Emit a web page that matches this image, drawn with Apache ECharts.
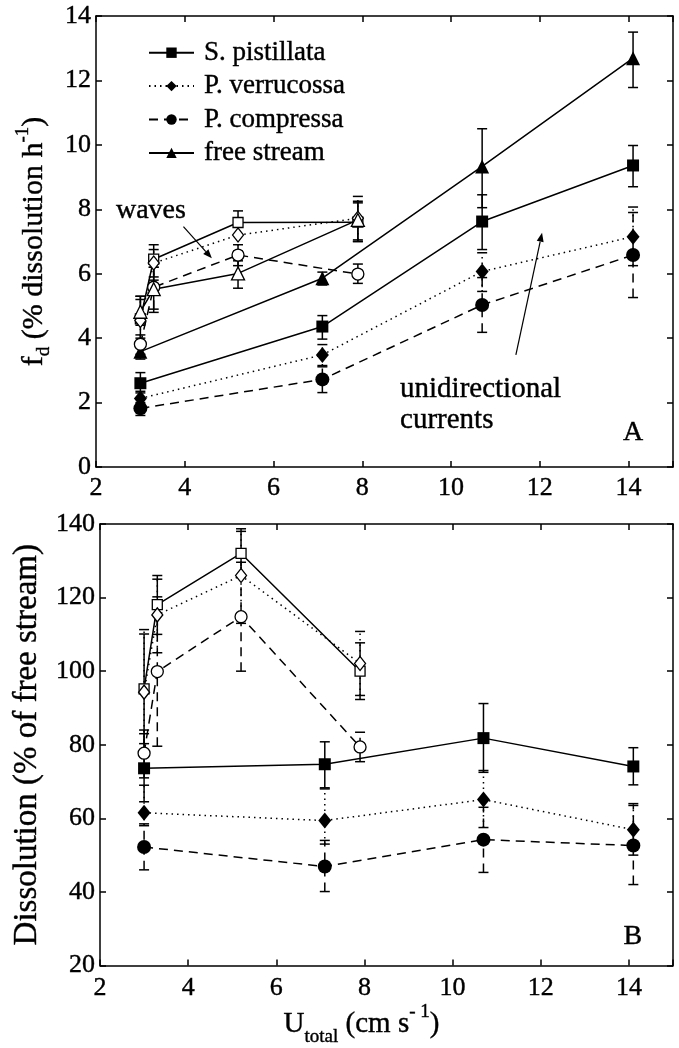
<!DOCTYPE html>
<html>
<head>
<meta charset="utf-8">
<script src="https://cdn.jsdelivr.net/npm/echarts/dist/echarts.min.js"></script>
<style>
html, body { margin: 0; padding: 0; background: #fff; }
#chart { width: 679px; height: 1048px; }
</style>
</head>
<body>
<div id="chart"></div>
<script>
// flow speeds (cm/s)
var xUni = [3.0, 7.1, 10.7, 14.1];
var xWave = [3.0, 3.3, 5.2, 7.9];
var names = ['S. pistillata', 'P. verrucossa', 'P. compressa', 'free stream'];

// panel A: fd (% dissolution h-1), unidirectional currents
var fdPistUni = [2.6, 4.36, 7.62, 9.36];
var fdPistUniErr = [[2.35, 2.93], [3.97, 4.7], [6.75, 8.45], [8.7, 9.98]];
var fdVerrUni = [2.13, 3.48, 6.07, 7.15];
var fdVerrUniErr = [[1.95, 2.3], [3.15, 3.8], [5.45, 6.65], [6.25, 8.07]];
var fdCompUni = [1.82, 2.72, 5.03, 6.58];
var fdCompUniErr = [[1.6, 2.0], [2.31, 3.11], [4.18, 5.88], [5.26, 7.9]];
var fdFreeUni = [3.58, 5.86, 9.33, 12.69];
var fdFreeUniErr = [[3.35, 3.8], [5.65, 6.05], [8.05, 10.5], [11.78, 13.5]];

// panel A: waves
var fdPistWave = [4.6, 6.45, 7.59, 7.6];
var fdPistWaveErr = [[4.0, 5.3], [5.9, 6.9], [7.2, 7.95], [7.0, 8.2]];
var fdVerrWave = [4.55, 6.33, 7.2, 7.72];
var fdVerrWaveErr = [[3.9, 5.2], [5.8, 6.75], [6.7, 7.7], [7.05, 8.4]];
var fdCompWave = [3.81, 5.58, 6.58, 5.99];
var fdCompWaveErr = [[3.5, 4.1], [4.9, 6.2], [6.25, 6.9], [5.7, 6.3]];
var fdFreeWave = [4.82, 5.52, 6.01, 7.67];
var fdFreeWaveErr = [[4.4, 5.3], [4.8, 6.2], [5.55, 6.4], [7.0, 8.25]];

// panel B: dissolution (% of free stream)
var dsPistUni = [73.6, 74.7, 81.8, 74.1];
var dsPistUniErr = [[64.5, 83], [68.3, 80.8], [72.5, 91.2], [69.1, 79.2]];
var dsVerrUni = [61.5, 59.4, 65.1, 56.9];
var dsVerrUniErr = [[58, 69], [53, 68], [57.5, 73], [50, 64]];
var dsCompUni = [52.2, 46.9, 54.2, 52.6];
var dsCompUniErr = [[46, 58.5], [40.1, 54], [45.3, 63], [42, 63.5]];
var dsPistWave = [95.2, 118.1, 132.0, 100.0];
var dsPistWaveErr = [[80.3, 110.1], [110, 126], [125.5, 138.7], [92.3, 107.7]];
var dsVerrWave = [94.3, 115.3, 126.0, 102.1];
var dsVerrWaveErr = [[77.5, 111.3], [105, 125], [113, 138], [93.4, 110.8]];
var dsCompWave = [77.7, 99.9, 114.8, 79.4];
var dsCompWaveErr = [[71, 84], [79.6, 120.2], [100, 129.6], [75.4, 83.4]];

var FONT = 'Liberation Serif';
var SOLID = 'solid';
var DOT = [1.5, 4];
var DASH = [9, 6];
var LW = 1.5;
// slight outline so the serif text looks as heavy as the scanned original
var INK = { textBorderColor: '#000', textBorderWidth: 0.4 };

var chart = echarts.init(document.getElementById('chart'));

function lineS(name, xs, ys, g, sym, size, filled, dash) {
    return {
        name: name, type: 'line', xAxisIndex: g * 2, yAxisIndex: g * 2,
        data: xs.map(function (x, i) { return [x, ys[i]]; }),
        symbol: sym, symbolSize: size, showSymbol: true, showAllSymbol: true,
        lineStyle: { color: '#000', width: LW, type: dash },
        itemStyle: { color: filled ? '#000' : '#fff', borderColor: '#000', borderWidth: filled ? 0 : 1.3 },
        z: 3
    };
}

function errS(xs, errs, g, dash) {
    return {
        type: 'custom', xAxisIndex: g * 2, yAxisIndex: g * 2, silent: true, z: 2,
        data: xs.map(function (x, i) { return [x, errs[i][0], errs[i][1]]; }),
        renderItem: function (params, api) {
            var lo = api.coord([api.value(0), api.value(1)]);
            var hi = api.coord([api.value(0), api.value(2)]);
            var w = 5;
            var cap = { stroke: '#000', lineWidth: LW };
            return {
                type: 'group', children: [
                    { type: 'line', shape: { x1: lo[0], y1: lo[1], x2: hi[0], y2: hi[1] },
                      style: { stroke: '#000', lineWidth: LW, lineDash: dash === SOLID ? null : dash } },
                    { type: 'line', shape: { x1: lo[0] - w, y1: lo[1], x2: lo[0] + w, y2: lo[1] }, style: cap },
                    { type: 'line', shape: { x1: hi[0] - w, y1: hi[1], x2: hi[0] + w, y2: hi[1] }, style: cap }
                ]
            };
        }
    };
}

function xAx(g, pos, labels, margin) {
    return {
        type: 'value', gridIndex: g, position: pos, min: 2, max: 15, interval: 2,
        axisLine: { show: true, onZero: false, lineStyle: { color: '#000', width: LW } },
        axisTick: { show: true, inside: true, length: 6, lineStyle: { color: '#000', width: LW } },
        axisLabel: Object.assign({ show: labels, fontFamily: FONT, fontSize: 26, color: '#000', margin: margin,
            formatter: function (v) { return v > 14.5 ? '' : v; } }, INK),
        splitLine: { show: false }
    };
}

function yAx(g, pos, labels, min, max, step) {
    return {
        type: 'value', gridIndex: g, position: pos, min: min, max: max, interval: step,
        axisLine: { show: true, onZero: false, lineStyle: { color: '#000', width: LW } },
        axisTick: { show: true, inside: true, length: 6, lineStyle: { color: '#000', width: LW } },
        axisLabel: Object.assign({ show: labels, fontFamily: FONT, fontSize: 26, color: '#000', margin: 5 }, INK),
        splitLine: { show: false }
    };
}

function rich(main, small, lh) {
    return {
        m: Object.assign({ fontFamily: FONT, fontSize: main, lineHeight: lh, color: '#000' }, INK),
        sub: Object.assign({ fontFamily: FONT, fontSize: small, lineHeight: small, verticalAlign: 'bottom', color: '#000' }, INK),
        sup: Object.assign({ fontFamily: FONT, fontSize: small, lineHeight: small, verticalAlign: 'top', color: '#000' }, INK)
    };
}

var xa0 = xAx(0, 'bottom', true, 8);
var xa1 = xAx(0, 'top', false, 8);
var xa2 = xAx(1, 'bottom', true, 10);
var xa3 = xAx(1, 'top', false, 10);
xa2.name = '{m|U}{sub|total}{m| (cm s}{sup|- 1}{m|)}';
xa2.nameLocation = 'middle';
xa2.nameGap = 29;
xa2.nameTextStyle = { fontFamily: FONT, color: '#000', padding: [0, 50, 0, 0], rich: rich(29, 19, 44) };

var ya0 = yAx(0, 'left', true, 0, 14, 2);
ya0.name = '{m|f}{sub|d}{m| (% dissolution h}{sup|-1}{m|)}';
ya0.nameLocation = 'middle';
ya0.nameRotate = 90;
ya0.nameGap = 34;
ya0.nameTextStyle = { fontFamily: FONT, color: '#000', rich: rich(30, 19, 40) };
var ya1 = yAx(0, 'right', false, 0, 14, 2);
var ya2 = yAx(1, 'left', true, 20, 140, 20);
ya2.name = 'Dissolution (% of free stream)';
ya2.nameLocation = 'middle';
ya2.nameRotate = 90;
ya2.nameGap = 44;
ya2.nameTextStyle = Object.assign({ fontFamily: FONT, fontSize: 33, lineHeight: 36, color: '#000' }, INK);
var ya3 = yAx(1, 'right', false, 20, 140, 20);

var series = [
    // panel A
    errS(xUni, fdPistUniErr, 0, SOLID), errS(xUni, fdVerrUniErr, 0, DOT),
    errS(xUni, fdCompUniErr, 0, DASH), errS(xUni, fdFreeUniErr, 0, SOLID),
    errS(xWave, fdPistWaveErr, 0, SOLID), errS(xWave, fdVerrWaveErr, 0, DOT),
    errS(xWave, fdCompWaveErr, 0, DASH), errS(xWave, fdFreeWaveErr, 0, SOLID),
    lineS(names[0], xUni, fdPistUni, 0, 'rect', 12, true, SOLID),
    lineS(names[1], xUni, fdVerrUni, 0, 'diamond', [13, 16], true, DOT),
    lineS(names[2], xUni, fdCompUni, 0, 'circle', 14, true, DASH),
    lineS(names[3], xUni, fdFreeUni, 0, 'triangle', 14, true, SOLID),
    lineS('S. pistillata waves', xWave, fdPistWave, 0, 'rect', 10, false, SOLID),
    lineS('P. verrucossa waves', xWave, fdVerrWave, 0, 'diamond', [11, 14], false, DOT),
    lineS('P. compressa waves', xWave, fdCompWave, 0, 'circle', 12, false, DASH),
    lineS('free stream waves', xWave, fdFreeWave, 0, 'triangle', 13, false, SOLID),
    // panel B
    errS(xUni, dsPistUniErr, 1, SOLID), errS(xUni, dsVerrUniErr, 1, DOT),
    errS(xUni, dsCompUniErr, 1, DASH),
    errS(xWave, dsPistWaveErr, 1, SOLID), errS(xWave, dsVerrWaveErr, 1, DOT),
    errS(xWave, dsCompWaveErr, 1, DASH),
    lineS(names[0], xUni, dsPistUni, 1, 'rect', 12, true, SOLID),
    lineS(names[1], xUni, dsVerrUni, 1, 'diamond', [13, 16], true, DOT),
    lineS(names[2], xUni, dsCompUni, 1, 'circle', 14, true, DASH),
    lineS('S. pistillata waves', xWave, dsPistWave, 1, 'rect', 10, false, SOLID),
    lineS('P. verrucossa waves', xWave, dsVerrWave, 1, 'diamond', [11, 14], false, DOT),
    lineS('P. compressa waves', xWave, dsCompWave, 1, 'circle', 12, false, DASH)
];

var option = {
    animation: false,
    backgroundColor: '#fff',
    grid: [
        { left: 96, top: 16, width: 577, height: 451 },
        { left: 100, top: 524, width: 573, height: 449 }
    ],
    legend: {
        data: names, orient: 'vertical', left: 143, top: 34,
        itemWidth: 45, itemHeight: 13, itemGap: 6, selectedMode: false,
        textStyle: Object.assign({ fontFamily: FONT, fontSize: 27, lineHeight: 26, color: '#000', padding: [0, 0, 0, 5] }, INK)
    },
    xAxis: [xa0, xa1, xa2, xa3],
    yAxis: [ya0, ya1, ya2, ya3],
    series: series
};
chart.setOption(option);

// annotations, anchored in data space
function px(g, x, y) { return chart.convertToPixel({ xAxisIndex: g * 2, yAxisIndex: g * 2 }, [x, y]); }
function arrow(a, b) {
    var dx = b[0] - a[0], dy = b[1] - a[1];
    var len = Math.sqrt(dx * dx + dy * dy);
    var ux = dx / len, uy = dy / len;
    var hl = 9, hw = 3.5;
    var bx = b[0] - ux * hl, by = b[1] - uy * hl;
    return [
        { type: 'line', shape: { x1: a[0], y1: a[1], x2: bx, y2: by }, style: { stroke: '#000', lineWidth: 1.2 } },
        { type: 'polygon', shape: { points: [b, [bx - uy * hw, by + ux * hw], [bx + uy * hw, by - ux * hw]] },
          style: { fill: '#000' } }
    ];
}
function label(p, text, size, align) {
    return { type: 'text', x: p[0], y: p[1],
        style: { text: text, fontFamily: FONT, fontSize: size, fill: '#000', stroke: '#000', lineWidth: 0.4,
            align: align, verticalAlign: 'middle' } };
}

var gfx = [];
gfx = gfx.concat(arrow(px(0, 3.97, 7.46), px(0, 4.61, 6.48)));
gfx = gfx.concat(arrow(px(0, 11.46, 3.48), px(0, 12.05, 7.27)));
gfx.push(label(px(0, 2.45, 7.95), 'waves', 28, 'left'));
gfx.push(label(px(0, 8.85, 2.4), 'unidirectional', 29, 'left'));
gfx.push(label(px(0, 8.85, 1.45), 'currents', 29, 'left'));
gfx.push(label(px(0, 14.1, 1.06), 'A', 28, 'center'));
gfx.push(label(px(1, 14.09, 27.8), 'B', 28, 'center'));
chart.setOption({ graphic: gfx });
</script>
</body>
</html>
